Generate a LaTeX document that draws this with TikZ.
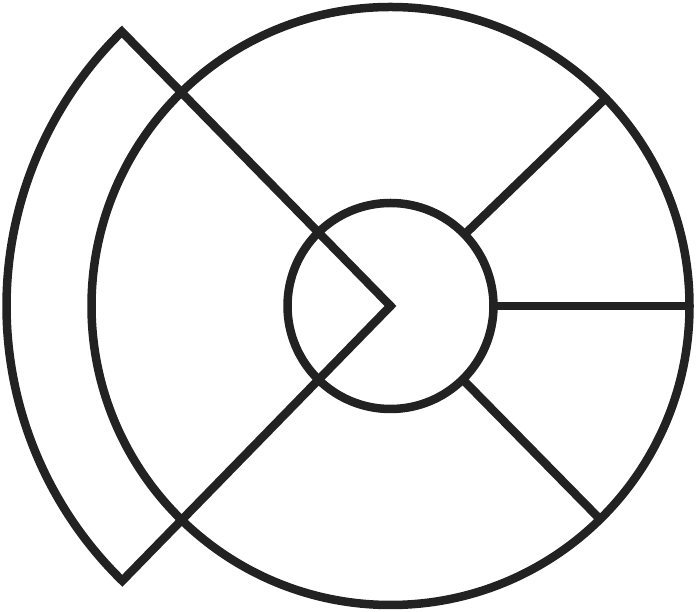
\documentclass[tikz,border=0pt]{standalone}
\usetikzlibrary{calc}
\definecolor{ink}{RGB}{34,34,34}
\begin{document}
\begin{tikzpicture}[x=1pt,y=1pt,
  stroke/.style={draw=ink,line width=8.5pt,line join=miter}]
\useasboundingbox (0,0) rectangle (696,612);
\coordinate (c) at (390.5,306);
% big circle
\draw[stroke] (c) circle[radius=299];
% small circle
\draw[stroke] (c) circle[radius=103];
% crescent with chevron
\draw[stroke] (c) -- ++(134.4:384) arc[start angle=134.4,end angle=225.7,radius=384] -- cycle;
% spokes
\draw[stroke] ($(c)+(44:103)$) -- ($(c)+(44:299)$);
\draw[stroke] ($(c)+(0:103)$) -- ($(c)+(0:299)$);
\draw[stroke] ($(c)+(-45.5:103)$) -- ($(c)+(-45.5:299)$);
\end{tikzpicture}
\end{document}
